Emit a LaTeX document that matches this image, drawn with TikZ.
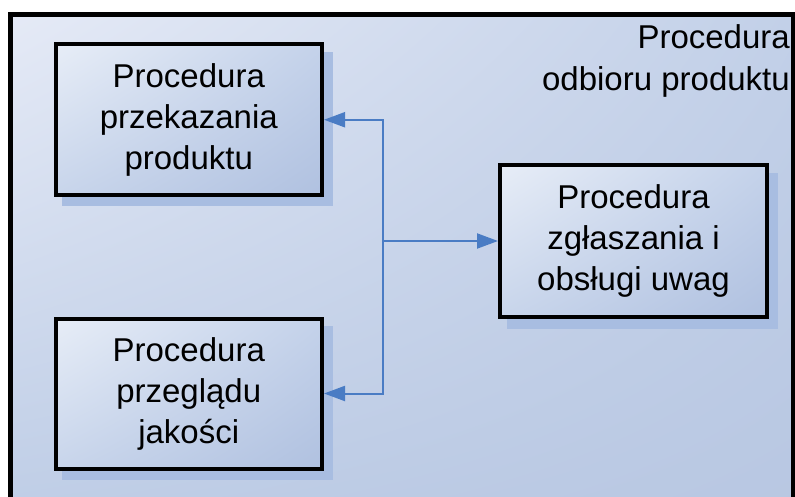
\documentclass[tikz,border=0pt]{standalone}
\usepackage{fontspec}
\setmainfont{Liberation Sans}
\usetikzlibrary{arrows.meta,shadings}

\definecolor{frameTL}{RGB}{229,234,246}
\definecolor{frameTR}{RGB}{194,208,232}
\definecolor{frameBL}{RGB}{190,205,230}
\definecolor{frameBR}{RGB}{184,199,226}
\definecolor{boxTL}{RGB}{231,237,247}
\definecolor{boxTR}{RGB}{196,210,234}
\definecolor{boxBL}{RGB}{200,213,235}
\definecolor{boxBR}{RGB}{176,193,224}
\definecolor{shadowblue}{RGB}{168,189,225}
\definecolor{linkblue}{RGB}{74,124,196}

\tikzset{
  procbox/.style={
    draw=black, line width=4pt, rectangle, inner sep=0pt, shade,
    upper left=boxTL, upper right=boxTR, lower left=boxBL, lower right=boxBR,
    align=center, font=\fontsize{33}{41}\selectfont
  },
  boxshadow/.style={fill=shadowblue, draw=none},
  link/.style={draw=linkblue, line width=2pt,
    -{Triangle[length=21pt,width=15pt]}},
  frametitle/.style={inner sep=0pt, align=right,
    font=\fontsize{33}{42}\selectfont}
}

\begin{document}
\begin{tikzpicture}[x=1pt,y=-1pt]
  \useasboundingbox (0,0) rectangle (795,497);
  \fill[white] (0,0) rectangle (795,497);
  \clip (0,0) rectangle (795,497);

  % container of the receiving procedure
  \shade[upper left=frameTL, upper right=frameTR,
         lower left=frameBL, lower right=frameBR]
    (10.5,14.5) rectangle (793.5,520);
  \draw[line width=4.5pt] (10.5,14.5) rectangle (793.5,520);
  \node[frametitle, anchor=north east] (title) at (790,24)
    {Procedura\\odbioru produktu};

  % drop shadows of the three procedures
  \fill[boxshadow] (62,52) rectangle (333,206);
  \fill[boxshadow] (62,326) rectangle (333,480);
  \fill[boxshadow] (507,173) rectangle (778,329);

  % procedures
  \node[procbox, minimum width=266.5pt, minimum height=150.5pt]
    (hand) at (188.75,119.75) {Procedura\\przekazania\\produktu};
  \node[procbox, minimum width=266.5pt, minimum height=150pt]
    (review) at (188.75,393.5) {Procedura\\przeglądu\\jakości};
  \node[procbox, minimum width=267pt, minimum height=152pt]
    (remarks) at (633.5,241) {Procedura\\zgłaszania i\\obsługi uwag};

  % connectors
  \coordinate (hub) at (383,241);
  \draw[link] (hub) |- (hand.east);
  \draw[link] (hub) |- (review.east);
  \draw[link] (hub) -- (remarks.west);
\end{tikzpicture}
\end{document}
